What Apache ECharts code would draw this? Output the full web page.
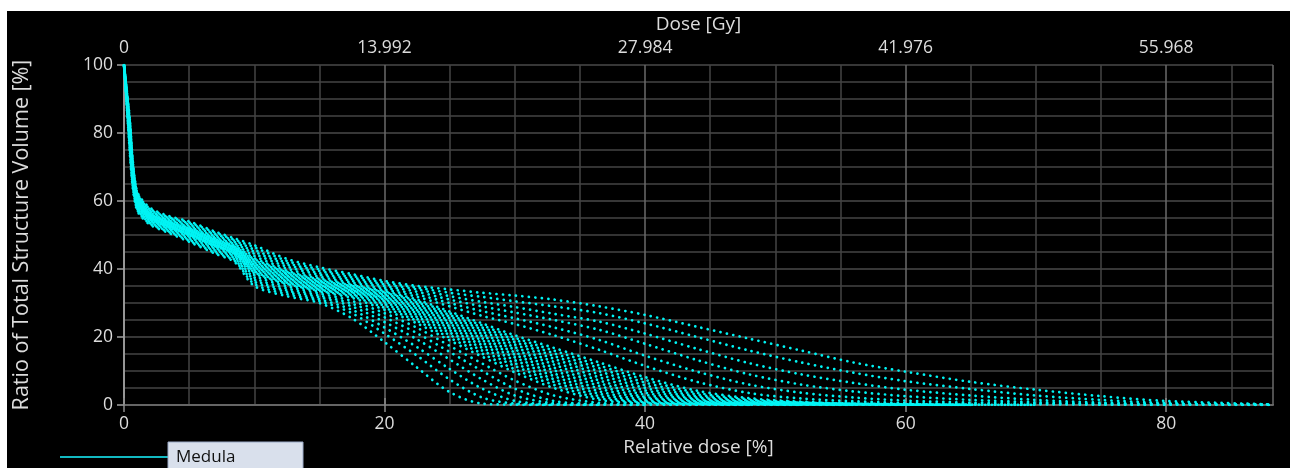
<!DOCTYPE html>
<html>
<head>
<meta charset="utf-8">
<script src="https://cdn.jsdelivr.net/npm/echarts@6/dist/echarts.min.js"></script>
<style>
  html, body { margin: 0; padding: 0; background: #fff; width: 1296px; height: 468px; overflow: hidden; }
  #panel { position: absolute; left: 7px; top: 11px; width: 1283px; height: 457px; background: #000; }
  #chart { width: 1283px; height: 457px; }
</style>
</head>
<body>
<div id="panel"><div id="chart"></div></div>
<script>
// Relative dose knots [%] shared by every DVH curve
const doseKnots = [0, 0.45, 0.65, 0.85, 1.1, 2, 3.5, 5, 7, 8.5, 10, 12.5, 15, 17.5, 20, 22.5, 25,
                   27.5, 30, 33, 36.5, 40, 44, 48, 52, 56, 60, 65, 70, 75, 80, 88];

// Volume [%] of Medula for each dose scenario, from lowest to highest curve
const medula00 = [100, 74, 64.5, 59.5, 56.5, 53, 50.5, 48, 44.5, 42, 35, 32, 30, 25.5, 18.5, 11, 3.8, 0.4, 0.1, 0];
const medula01 = [100, 74.6, 65, 59.9, 56.8, 53.3, 50.8, 48.3, 44.8, 42.4, 35.6, 32.6, 30.6, 27, 21, 14.5, 7.5, 2.2, 0.4, 0.1, 0];
const medula02 = [100, 75.3, 65.5, 60.3, 57.1, 53.5, 51, 48.6, 45.2, 42.7, 36.3, 33.2, 31.1, 28, 22.8, 17, 10.6, 4.8, 1.2, 0.2, 0];
const medula03 = [100, 76, 66, 60.7, 57.4, 53.8, 51.3, 48.9, 45.5, 43.1, 36.9, 33.7, 31.7, 29, 24.4, 19.3, 13.4, 7.5, 2.8, 0.5, 0.1, 0];
const medula04 = [100, 76.7, 66.6, 61.1, 57.8, 54.1, 51.6, 49.3, 45.9, 43.5, 37.5, 34.3, 32.2, 29.8, 25.8, 21.1, 15.6, 10, 4.8, 1.2, 0.2, 0];
const medula05 = [100, 77.4, 67.2, 61.6, 58.1, 54.3, 51.8, 49.6, 46.2, 43.8, 38.2, 34.9, 32.8, 30.6, 27, 22.7, 17.4, 12.2, 7.2, 2.8, 0.6, 0.1, 0];
const medula06 = [100, 78.5, 68.2, 62.2, 58.6, 54.6, 52.1, 49.9, 46.6, 44.2, 38.8, 35.5, 33.3, 31.5, 28, 24, 19, 14.2, 9.6, 5, 1.5, 0.4, 0.1, 0];
const medula07 = [100, 78.7, 68.4, 62.3, 58.7, 54.7, 52.2, 50, 46.7, 44.4, 39.1, 35.7, 33.6, 31.9, 28.6, 24.7, 19.8, 15.1, 10.5, 5.9, 2, 0.6, 0.2, 0];
const medula08 = [100, 78.9, 68.6, 62.5, 58.8, 54.8, 52.3, 50.2, 46.9, 44.6, 39.4, 36, 33.9, 32.3, 29.2, 25.3, 20.6, 16, 11.5, 6.8, 2.6, 0.8, 0.3, 0.1, 0];
const medula09 = [100, 79.1, 68.7, 62.6, 58.9, 54.9, 52.4, 50.3, 47, 44.7, 39.7, 36.3, 34.1, 32.6, 29.7, 25.9, 21.3, 16.8, 12.3, 7.6, 3.3, 1.1, 0.4, 0.2, 0];
const medula10 = [100, 79.4, 68.9, 62.8, 59.1, 55.1, 52.6, 50.5, 47.2, 44.9, 40.1, 36.6, 34.4, 33, 30.2, 26.5, 22, 17.6, 13.2, 8.5, 4, 1.5, 0.6, 0.3, 0.1, 0];
const medula11 = [100, 79.6, 69.1, 63, 59.2, 55.2, 52.7, 50.6, 47.4, 45.1, 40.4, 36.9, 34.7, 33.2, 30.6, 27, 22.6, 18.3, 14, 9.3, 4.8, 2, 0.8, 0.3, 0.1, 0];
const medula12 = [100, 79.8, 69.3, 63.1, 59.4, 55.4, 52.9, 50.8, 47.6, 45.3, 40.7, 37.2, 35, 33.5, 31, 27.5, 23.2, 19, 14.8, 10.2, 5.6, 2.4, 1, 0.4, 0.2, 0.1, 0];
const medula13 = [100, 80, 69.5, 63.2, 59.5, 55.5, 53, 51, 47.7, 45.5, 41, 37.5, 35.2, 33.7, 31.3, 27.9, 23.8, 19.6, 15.5, 11, 6.4, 3, 1.2, 0.5, 0.2, 0.1, 0];
const medula14 = [100, 80.2, 69.7, 63.4, 59.6, 55.6, 53.1, 51.2, 47.9, 45.7, 41.3, 37.8, 35.5, 34, 31.6, 28.4, 24.4, 20.3, 16.3, 11.9, 7.2, 3.6, 1.5, 0.7, 0.3, 0.2, 0.1, 0];
const medula15 = [100, 80.4, 69.9, 63.5, 59.7, 55.7, 53.2, 51.3, 48.1, 45.9, 41.6, 38.1, 35.8, 34.2, 31.9, 28.8, 24.9, 20.9, 17, 12.7, 8.1, 4.3, 1.8, 0.8, 0.4, 0.2, 0.1, 0];
const medula16 = [100, 80.6, 70.1, 63.7, 59.9, 55.9, 53.4, 51.5, 48.3, 46.1, 41.9, 38.4, 36.1, 34.5, 32.3, 29.3, 25.5, 21.6, 17.8, 13.6, 9, 5, 2.2, 1, 0.5, 0.3, 0.1, 0];
const medula17 = [100, 80.8, 70.2, 63.8, 60, 56, 53.5, 51.6, 48.4, 46.2, 42.2, 38.7, 36.3, 34.7, 32.6, 29.7, 26, 22.2, 18.5, 14.4, 9.9, 5.8, 2.6, 1.2, 0.6, 0.3, 0.1, 0];
const medula18 = [100, 81.1, 70.4, 64, 60.2, 56.2, 53.7, 51.8, 48.6, 46.4, 42.6, 39, 36.6, 35, 33, 30.2, 26.5, 22.8, 19.2, 15.2, 10.8, 6.6, 3.1, 1.4, 0.7, 0.4, 0.2, 0.1, 0];
const medula19 = [100, 81.3, 70.6, 64.2, 60.3, 56.3, 53.8, 51.9, 48.8, 46.6, 42.9, 39.2, 36.9, 35.2, 33.2, 30.6, 27, 23.4, 19.8, 16, 11.6, 7.4, 3.6, 1.7, 0.8, 0.4, 0.2, 0];
const medula20 = [100, 81.5, 70.8, 64.3, 60.4, 56.4, 53.9, 52.1, 49, 46.8, 43.2, 39.5, 37.2, 35.5, 33.5, 31, 27.5, 24, 20.5, 16.8, 12.5, 8.2, 4.2, 2, 1, 0.5, 0.3, 0.1, 0];
const medula21 = [100, 81.9, 71.2, 64.6, 60.7, 56.7, 54.2, 52.4, 49.3, 47.2, 43.8, 40.1, 37.7, 36, 34, 31.8, 29, 26.2, 23.8, 20.5, 16.2, 11.5, 6.8, 3.5, 1.9, 1.1, 0.6, 0.3, 0.2, 0.1, 0];
const medula22 = [100, 82.3, 71.5, 64.8, 60.9, 56.9, 54.4, 52.7, 49.6, 47.5, 44.5, 40.7, 38.3, 36.5, 34.5, 32.5, 30, 27.6, 25.5, 22.8, 19.1, 14.5, 9.8, 6, 3.6, 2.2, 1.3, 0.7, 0.4, 0.2, 0.1, 0];
const medula23 = [100, 82.7, 71.9, 65.1, 61.2, 57.2, 54.7, 53.1, 50, 47.9, 45.1, 41.3, 38.8, 37, 35, 33.3, 31, 29, 27.2, 25, 22.1, 18, 13.2, 9, 6, 4, 2.6, 1.5, 0.8, 0.4, 0.2, 0];
const medula24 = [100, 83.2, 72.3, 65.4, 61.5, 57.5, 55, 53.4, 50.3, 48.3, 45.7, 41.8, 39.4, 37.5, 35.5, 34, 32, 30.3, 28.8, 26.8, 24.5, 21, 16.5, 12.3, 9, 6.5, 4.5, 2.8, 1.5, 0.7, 0.3, 0.1];
const medula25 = [100, 83.6, 72.6, 65.7, 61.7, 57.7, 55.2, 53.7, 50.7, 48.6, 46.4, 42.4, 39.9, 38, 36, 34.5, 33, 31.8, 30.5, 29, 27, 24, 20, 16, 12.5, 9.5, 7, 4.7, 2.8, 1.5, 0.6, 0.1];
const medula26 = [100, 84, 73, 66, 62, 58, 55.5, 54, 51, 49, 47, 43, 40.5, 38.5, 36.5, 35, 34, 33, 32.2, 31, 29, 26.5, 23, 19.5, 16, 12.5, 9.8, 6.8, 4.5, 2.6, 1.2, 0.2];

const scenarios = [medula00, medula01, medula02, medula03, medula04, medula05, medula06,
                   medula07, medula08, medula09, medula10, medula11, medula12, medula13,
                   medula14, medula15, medula16, medula17, medula18, medula19, medula20,
                   medula21, medula22, medula23, medula24, medula25, medula26];

// Tick labels
const relativeTicks = [0, 20, 40, 60, 80];
const doseTickLabels = ['0', '13.992', '27.984', '41.976', '55.968'];
const volumeTicks = [0, 20, 40, 60, 80, 100];

const FONT = '"Open Sans", "Noto Sans", sans-serif';
const TEXT = '#dcdcdc';
const CURVE = '#00f4f4';
const DOT_GAP = 6.4;

function curveData(values) {
  return values.map((v, i) => [doseKnots[i], v]);
}

// Each curve is a dotted line; the dot phase is staggered between curves
const series = scenarios.map((vals, k) => ({
  name: 'Medula',
  type: 'line',
  data: curveData(vals),
  xAxisIndex: 0,
  yAxisIndex: 0,
  symbol: 'none',
  smooth: 0.3,
  silent: true,
  z: 3,
  lineStyle: { color: CURVE, width: 2.7, type: [0.1, DOT_GAP], cap: 'round',
               dashOffset: (k * 2.45) % DOT_GAP }
}));

const chart = echarts.init(document.getElementById('chart'), null, { renderer: 'canvas' });
chart.setOption({
  animation: false,
  backgroundColor: '#000',
  textStyle: { fontFamily: FONT },
  grid: { left: 117, right: 17, top: 54, bottom: 63, containLabel: false, outerBoundsMode: 'none' },
  xAxis: [
    {
      type: 'value', position: 'bottom', min: 0, max: 88.2, interval: 20,
      name: 'Relative dose [%]', nameLocation: 'middle', nameGap: 30,
      nameTextStyle: { color: TEXT, fontSize: 19, fontFamily: FONT },
      axisLine: { show: true, lineStyle: { color: '#b4b4b4', width: 1.5 } },
      axisTick: { show: true, length: 7, lineStyle: { color: '#8a8a8a', width: 1.5 } },
      axisLabel: { color: TEXT, fontSize: 17.5, margin: 10, fontFamily: FONT, showMaxLabel: false,
        formatter: v => relativeTicks.includes(v) ? String(v) : '' },
      splitLine: { show: true, lineStyle: { color: '#6a6a6a', width: 1.5 } },
      minorTick: { show: false, splitNumber: 4 },
      minorSplitLine: { show: true, lineStyle: { color: '#444', width: 1.5 } }
    },
    {
      type: 'value', position: 'top', min: 0, max: 88.2, interval: 20,
      name: 'Dose [Gy]', nameLocation: 'middle', nameGap: 28,
      nameTextStyle: { color: TEXT, fontSize: 19, fontFamily: FONT },
      axisLine: { show: true, lineStyle: { color: '#555', width: 1.5 } },
      axisTick: { show: true, length: 7, lineStyle: { color: '#8a8a8a', width: 1.5 } },
      axisLabel: { color: TEXT, fontSize: 17.5, margin: 8, fontFamily: FONT, showMaxLabel: false,
        formatter: v => { const i = relativeTicks.indexOf(v); return i >= 0 ? doseTickLabels[i] : ''; } },
      splitLine: { show: false }
    }
  ],
  yAxis: [
    {
      type: 'value', position: 'left', min: 0, max: 100, interval: 20,
      name: 'Ratio of Total Structure Volume [%]', nameLocation: 'middle', nameGap: 91,
      nameTextStyle: { color: TEXT, fontSize: 21.5, fontFamily: FONT },
      axisLine: { show: true, lineStyle: { color: '#a0a0a0', width: 1.5 } },
      axisTick: { show: true, length: 7, lineStyle: { color: '#a0a0a0', width: 1.5 } },
      axisLabel: { color: TEXT, fontSize: 17.5, margin: 11, fontFamily: FONT,
        formatter: v => volumeTicks.includes(v) ? String(v) : '' },
      splitLine: { show: true, lineStyle: { color: '#4a4a4a', width: 1.5 } },
      minorTick: { show: false, splitNumber: 4 },
      minorSplitLine: { show: true, lineStyle: { color: '#444', width: 1.5 } }
    },
    {
      type: 'value', position: 'right', min: 0, max: 100,
      axisLine: { show: true, lineStyle: { color: '#9a9a9a', width: 1.5 } },
      axisTick: { show: false }, axisLabel: { show: false }, splitLine: { show: false }
    }
  ],
  graphic: [
    { type: 'line', shape: { x1: 53, y1: 446, x2: 161, y2: 446 },
      style: { stroke: '#12b9c2', lineWidth: 2 } },
    { type: 'rect', shape: { x: 161, y: 431, width: 135, height: 30 },
      style: { fill: '#d9e0ec', stroke: '#9aa9c6', lineWidth: 1 } },
    { type: 'text', x: 169, y: 446,
      style: { text: 'Medula', fill: '#111', font: '17px ' + FONT, verticalAlign: 'middle' } }
  ],
  series: series
});
</script>
</body>
</html>
